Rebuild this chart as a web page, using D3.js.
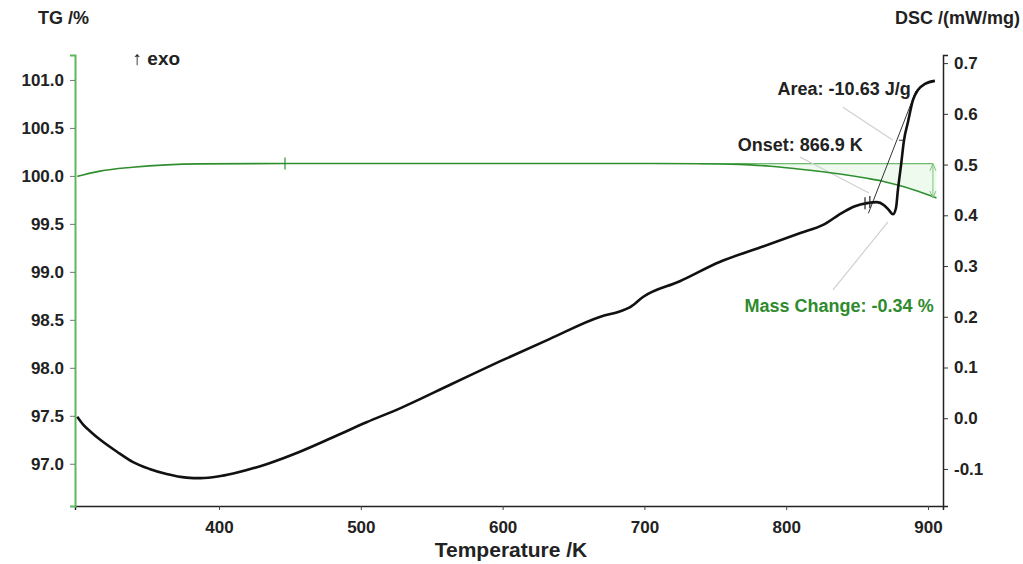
<!DOCTYPE html>
<html>
<head>
<meta charset="utf-8">
<script src="https://cdn.jsdelivr.net/npm/d3@7"></script>
<style>
  body { margin: 0; background: #fff; }
  svg text { font-family: "Liberation Sans", Arial, sans-serif; font-weight: bold; }
</style>
</head>
<body>
<svg id="chart" width="1023" height="564"></svg>
<script>
// DSC curve (black)
const dscTemp = [300, 304, 310, 316, 328, 339, 351, 363, 377, 387, 399, 410, 434, 457, 480, 504, 528,
  563, 598, 633, 669, 683, 690, 699, 725, 753, 782, 810, 826, 840, 848.5, 857, 864, 869, 872.5,
  875.3, 877.4, 878.8, 881, 883.1, 885.9, 889.4, 892.9, 897.9, 904.9];
const dscVals = [0.003, -0.012, -0.028, -0.042, -0.066, -0.086, -0.100, -0.110, -0.117, -0.118, -0.115,
  -0.109, -0.090, -0.066, -0.038, -0.008, 0.020, 0.066, 0.112, 0.156, 0.200, 0.211, 0.219, 0.239,
  0.270, 0.308, 0.337, 0.365, 0.381, 0.406, 0.418, 0.424, 0.426, 0.420, 0.410, 0.402, 0.414,
  0.450, 0.499, 0.548, 0.584, 0.627, 0.647, 0.659, 0.665];

// TG curve (green)
const tgTemp = [300, 304, 316, 339, 363, 386, 450, 550, 650, 739, 767, 789, 810, 838, 857, 868, 880, 893, 906];
const tgVals = [99.995, 100.01, 100.05, 100.09, 100.115, 100.125, 100.13, 100.13, 100.13, 100.127,
  100.12, 100.10, 100.07, 100.02, 99.975, 99.945, 99.90, 99.84, 99.77];

const xTicks = [400, 500, 600, 700, 800, 900];
const tgTicks = [97.0, 97.5, 98.0, 98.5, 99.0, 99.5, 100.0, 100.5, 101.0];
const dscTicks = [-0.1, 0.0, 0.1, 0.2, 0.3, 0.4, 0.5, 0.6, 0.7];

const massBase = 100.127;
const massEnd = 99.77;

const svg = d3.select("#chart");
const mLeft = 75, mRight = 943, mTop = 55, mBottom = 506;

const x = d3.scaleLinear().domain([298.4, 910.6]).range([mLeft, mRight]);
const yTg = d3.scaleLinear().domain([96.56, 101.26]).range([mBottom, mTop]);
const yDsc = d3.scaleLinear().domain([-0.173, 0.716]).range([mBottom, mTop]);

const fmt1 = d => d.toFixed(1);

// axes
const xAxis = d3.axisBottom(x).tickValues(xTicks).tickSize(4).tickPadding(11).tickFormat(d3.format("d"));
const xMinor = d3.axisBottom(x).tickValues(d3.range(320, 911, 20)).tickSize(3).tickFormat("");
const gx = svg.append("g").attr("transform", `translate(0,${mBottom})`);
gx.call(xMinor);
gx.call(xAxis);
gx.selectAll("path").attr("stroke", "#222").attr("stroke-width", 1.5);
gx.selectAll("line").attr("stroke", "#444");
gx.selectAll("text").attr("font-size", 17).attr("fill", "#222");

const gl = svg.append("g").attr("transform", `translate(${mLeft},0)`);
gl.call(d3.axisLeft(yTg).tickValues(d3.range(96.75, 101.26, 0.25)).tickSize(3).tickFormat(""));
gl.call(d3.axisLeft(yTg).tickValues(tgTicks).tickSize(5).tickPadding(6).tickFormat(fmt1));
gl.selectAll("path").attr("stroke", "#5cb85c").attr("stroke-width", 2);
gl.selectAll("line").attr("stroke", "#777");
gl.selectAll("text").attr("font-size", 17).attr("fill", "#222");

const gr = svg.append("g").attr("transform", `translate(${mRight},0)`);
gr.call(d3.axisRight(yDsc).tickValues(d3.range(-0.15, 0.716, 0.025)).tickSize(3).tickFormat(""));
gr.call(d3.axisRight(yDsc).tickValues(dscTicks).tickSize(5).tickPadding(6).tickFormat(fmt1));
gr.selectAll("path").attr("stroke", "#222").attr("stroke-width", 1.5);
gr.selectAll("line").attr("stroke", "#333");
gr.selectAll("text").attr("font-size", 17).attr("fill", "#222");

// axis titles
svg.append("text").attr("x", 38).attr("y", 24).attr("font-size", 18).attr("fill", "#222").text("TG /%");
svg.append("text").attr("x", 1020).attr("y", 24).attr("text-anchor", "end").attr("font-size", 18)
  .attr("fill", "#222").text("DSC /(mW/mg)");
svg.append("text").attr("x", 511).attr("y", 557).attr("text-anchor", "middle").attr("font-size", 21)
  .attr("fill", "#222").text("Temperature /K");
svg.append("text").attr("x", x(339)).attr("y", yDsc(0.697)).attr("font-size", 19).attr("fill", "#222")
  .text("\u2191 exo");

// mass change shading
const tgPts = tgTemp.map((t, i) => [t, tgVals[i]]);
const shade = tgPts.filter(p => p[0] >= 767);
svg.append("path")
  .datum(shade)
  .attr("fill", "#8fdc8f").attr("fill-opacity", 0.14)
  .attr("d", d3.area().x(d => x(d[0])).y0(yTg(massBase)).y1(d => yTg(d[1])).curve(d3.curveMonotoneX));

// baseline for mass change
svg.append("line")
  .attr("x1", x(739)).attr("x2", x(903.5)).attr("y1", yTg(massBase)).attr("y2", yTg(massBase))
  .attr("stroke", "#4aa84a").attr("stroke-width", 1);

// grey leader lines
const leaders = [
  [[840, 0.613], [875.3, 0.548]],
  [[809.7, 0.515], [858.4, 0.444]],
  [[833, 0.253], [871.8, 0.387]]
];
leaders.forEach(l => {
  svg.append("line")
    .attr("x1", x(l[0][0])).attr("y1", yDsc(l[0][1])).attr("x2", x(l[1][0])).attr("y2", yDsc(l[1][1]))
    .attr("stroke", "#d0d0d0").attr("stroke-width", 1.2);
});

// TG curve
svg.append("path")
  .datum(tgPts)
  .attr("fill", "none").attr("stroke", "#2f8f2f").attr("stroke-width", 1.6)
  .attr("d", d3.line().x(d => x(d[0])).y(d => yTg(d[1])).curve(d3.curveMonotoneX));

// mass change arrow
const ax = x(903.5);
svg.append("line").attr("x1", ax).attr("x2", ax).attr("y1", yTg(massBase)).attr("y2", yTg(massEnd))
  .attr("stroke", "#7cc47c").attr("stroke-width", 1);
[[massBase, 1], [massEnd, -1]].forEach(([v, s]) => {
  const yy = yTg(v);
  svg.append("path")
    .attr("d", `M${ax - 3},${yy + s * 7}L${ax},${yy}L${ax + 3},${yy + s * 7}`)
    .attr("fill", "none").attr("stroke", "#7cc47c").attr("stroke-width", 1);
});

// onset tangent with its small cross bar
const thin = [
  [[858, 0.404], [891.5, 0.645]],
  [[879.5, 0.548], [883.1, 0.548]]
];
thin.forEach(l => {
  svg.append("line")
    .attr("x1", x(l[0][0])).attr("y1", yDsc(l[0][1])).attr("x2", x(l[1][0])).attr("y2", yDsc(l[1][1]))
    .attr("stroke", "#333").attr("stroke-width", 1);
});

// DSC curve
const dscPts = dscTemp.map((t, i) => [t, dscVals[i]]);
svg.append("path")
  .datum(dscPts)
  .attr("fill", "none").attr("stroke", "#111").attr("stroke-width", 2.6)
  .attr("stroke-linejoin", "round")
  .attr("d", d3.line().x(d => x(d[0])).y(d => yDsc(d[1])).curve(d3.curveMonotoneX));

// cross marks
const crosses = [[446.5, 100.13, yTg], [855.6, 0.424, yDsc], [859, 0.426, yDsc]];
crosses.forEach(([t, v, sc]) => {
  svg.append("line").attr("x1", x(t)).attr("x2", x(t)).attr("y1", sc(v) - 6).attr("y2", sc(v) + 6)
    .attr("stroke", sc === yTg ? "#2f8f2f" : "#222").attr("stroke-width", 1.2);
});

// labels
svg.append("text").attr("x", x(887.8)).attr("y", yDsc(0.638)).attr("text-anchor", "end")
  .attr("font-size", 18).attr("fill", "#222").text("Area: -10.63 J/g");
svg.append("text").attr("x", x(854)).attr("y", yDsc(0.526)).attr("text-anchor", "end")
  .attr("font-size", 18).attr("fill", "#222").text("Onset: 866.9 K");
svg.append("text").attr("x", x(904)).attr("y", yDsc(0.210)).attr("text-anchor", "end")
  .attr("font-size", 18).attr("fill", "#2e8b2e").text("Mass Change: -0.34 %");
</script>
</body>
</html>
